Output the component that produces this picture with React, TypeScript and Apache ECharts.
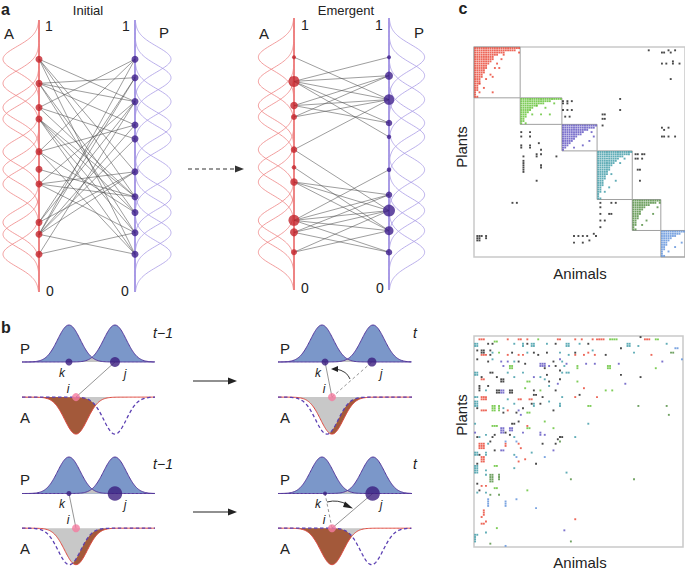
import React, { useEffect, useRef } from "react";
import * as echarts from "echarts";

const FONT = "'Liberation Sans', Arial, Helvetica, sans-serif";

// ---------------- Panel a : bipartite networks ----------------
const traitsA = [0.856, 0.767, 0.678, 0.636, 0.516, 0.451, 0.397, 0.256, 0.212, 0.139];
const traitsP = [0.856, 0.788, 0.7, 0.614, 0.563, 0.442, 0.35, 0.292, 0.218, 0.139];
const traitSigma = 0.047;
const traitCurveHeight = 0.375;
const initialEdges = [
  [0, 5], [0, 6], [0, 9], [0, 2],
  [1, 1], [1, 2], [1, 3], [1, 7],
  [2, 0], [2, 4],
  [3, 6], [3, 7], [3, 8],
  [4, 0], [4, 3], [4, 9],
  [5, 6],
  [6, 5], [6, 6], [6, 8],
  [7, 1], [7, 2], [7, 5],
  [8, 0], [8, 1], [8, 3], [8, 4], [8, 9],
  [9, 2], [9, 8],
  [2, 6], [3, 9], [4, 7], [6, 2], [8, 5], [1, 8],
];
const emergentEdges = [
  [0, 2],
  [1, 0], [1, 1], [1, 2], [1, 3], [1, 4],
  [2, 1], [2, 2], [2, 3],
  [3, 1], [3, 2],
  [4, 2], [4, 7],
  [5, 8],
  [6, 6], [6, 7], [6, 8],
  [7, 5], [7, 6], [7, 7], [7, 8], [7, 9],
  [8, 6], [8, 7], [8, 9],
  [9, 7], [9, 8],
];
const initialNodeSize = 7;
const emergentSizeA = [4, 11, 7.5, 6, 6.5, 4.5, 7.5, 11, 8, 6];
const emergentSizeP = [4, 8, 10.5, 6.5, 4.5, 4.5, 6.5, 12, 9, 6.5];

// ---------------- Panel b : trait matching ----------------
const bSigma = 0.085;
const bPeakK = [0.353, 0.353, 0.328, 0.328];
const bPeakJ = [0.699, 0.699, 0.709, 0.709];
const bNodeK = [0.353, 0.353, 0.351, 0.351];
const bNodeJ = [0.699, 0.699, 0.701, 0.706];
const bSizeK = [7, 5, 7, 4];
const bSizeJ = [10, 14.5, 9, 14.5];
const bNodeI = [0.406, 0.406, 0.403, 0.403];
const bPartnerCurve = [0.699, 0.356, 0.365, 0.699];
const bSolidLink = ["j", "k", "k", "j"];
const bDashedLink = ["", "", "j", "k"];
const bTimeLabel = ["t\u22121", "t\u22121", "t", "t"];
const bABase = -0.95;
const bYRange = [-1.92, 1];

// ---------------- Panel c : matrices ----------------
const matrixCols = 96;
const matrixRows = 95;
const moduleColBounds = [0, 21, 40, 56, 72, 85, 96];
const moduleRowBounds = [0, 23, 35, 47, 69, 83, 95];
const redFill = [21, 19, 14, 11, 9, 9, 8, 7, 6, 6, 5, 5, 4, 4, 3, 3, 3, 2, 2, 2, 1, 1, 1];
const greenFill = [19, 14, 11, 8, 6, 5, 4, 3, 3, 2, 2, 1];
const purpleFill = [16, 15, 12, 10, 9, 7, 6, 5, 4, 3, 2, 1];
const tealFill = [16, 15, 12, 10, 9, 8, 7, 6, 6, 5, 5, 4, 4, 3, 3, 3, 2, 2, 2, 1, 1, 1];
const darkGreenFill = [13, 11, 8, 6, 5, 4, 4, 3, 3, 2, 2, 2, 1, 1];
const lightBlueFill = [11, 9, 7, 5, 4, 3, 3, 2, 2, 1, 1, 1];
const redExtras = [[13, 3], [20, 2], [12, 5], [10, 7], [11, 9], [9, 9], [7, 12], [5, 14], [8, 13], [2, 16], [4, 18], [8, 20], [2, 20], [1, 22]];
const greenExtras = [[7, 3], [9, 7], [13, 7], [5, 7], [2, 11], [11, 4], [15, 2]];
const purpleExtras = [[14, 5], [12, 7], [9, 9], [5, 10], [13, 3]];
const tealExtras = [[12, 3], [10, 5], [6, 10], [8, 13], [3, 18], [1, 21], [5, 16]];
const darkGreenExtras = [[11, 3], [9, 6], [6, 9], [4, 11], [1, 13], [12, 1]];
const lightBlueExtras = [[9, 5], [6, 7], [3, 9], [1, 11]];
const blackCellsTop = [
  [79, 1], [85, 2], [86, 2], [88, 1], [89, 2], [91, 1], [85, 7], [87, 7], [90, 7], [93, 7], [90, 6], [89, 14],
  [40, 24], [42, 24], [44, 24], [40, 25], [42, 25], [40, 28], [42, 28], [44, 28], [41, 31], [43, 31],
  [66, 23], [66, 28], [58, 30], [59, 30], [58, 32], [59, 32], [58, 35],
  [21, 38], [21, 40], [25, 38], [25, 40], [29, 43], [21, 44], [21, 45], [25, 44], [25, 45], [28, 48], [30, 48], [28, 49], [30, 46], [37, 49], [22, 49],
  [22, 51], [22, 52], [22, 53], [22, 54], [22, 55], [22, 56], [30, 53], [30, 54], [28, 60], [17, 70], [19, 70],
  [73, 48], [74, 48], [76, 48], [77, 48], [73, 50], [74, 50], [76, 50], [74, 55], [75, 55], [75, 60],
  [85, 36], [86, 37], [88, 36], [85, 40], [86, 40], [88, 40], [91, 40],
  [57, 70], [62, 70], [64, 70], [57, 72], [57, 75], [61, 75], [62, 75], [57, 78], [59, 78], [57, 81],
  [54, 84], [55, 85], [52, 87], [45, 85], [47, 85], [49, 85], [51, 85], [45, 88], [49, 88],
  [1, 85], [2, 85], [3, 85], [5, 85], [1, 86], [2, 86], [5, 86], [2, 87], [1, 87],
];
// bottom matrix clusters: [col, row, width, height, colour index]
const mixedClusters = [
  [2, 1, 3, 1, 0], [9, 2, 2, 1, 1], [15, 1, 1, 1, 0], [20, 1, 2, 1, 0], [24, 1, 1, 1, 0], [29, 1, 1, 1, 1], [38, 1, 2, 1, 0], [46, 1, 1, 1, 0], [49, 1, 1, 1, 0], [54, 1, 1, 1, 0], [56, 1, 4, 1, 0], [62, 1, 4, 1, 1], [76, 0, 1, 1, 6], [78, 1, 3, 1, 0], [83, 1, 2, 1, 1],
  [0, 3, 2, 2, 3], [6, 3, 1, 1, 6], [8, 3, 1, 1, 6], [18, 3, 1, 1, 3], [22, 3, 1, 2, 3], [24, 3, 1, 1, 6], [26, 3, 2, 2, 3], [33, 3, 1, 1, 3], [37, 3, 1, 1, 6], [42, 3, 2, 2, 3], [48, 3, 1, 1, 3], [52, 3, 1, 1, 6], [70, 3, 2, 2, 3], [75, 4, 1, 1, 3], [88, 3, 1, 1, 3], [92, 5, 2, 1, 5],
  [1, 6, 1, 1, 6], [3, 8, 3, 1, 0], [3, 6, 2, 2, 6], [7, 6, 1, 1, 6], [8, 7, 1, 1, 3], [7, 8, 1, 1, 6], [11, 7, 1, 1, 1], [15, 8, 1, 1, 0], [17, 7, 1, 1, 6], [20, 8, 1, 1, 0], [22, 8, 1, 1, 0], [24, 7, 1, 1, 3], [29, 8, 1, 1, 6], [27, 7, 1, 1, 6], [33, 7, 1, 1, 6], [39, 7, 1, 1, 3], [43, 8, 1, 1, 3], [46, 8, 1, 1, 0], [46, 7, 1, 1, 6], [50, 8, 1, 1, 0], [52, 7, 1, 1, 0], [54, 6, 1, 1, 3], [55, 8, 1, 1, 0], [60, 8, 1, 1, 6], [67, 5, 1, 1, 6], [73, 7, 1, 1, 3], [81, 8, 1, 1, 0], [90, 7, 2, 1, 4], [95, 10, 1, 1, 5],
  [1, 10, 1, 1, 6], [6, 11, 1, 1, 6], [8, 10, 1, 1, 3], [12, 11, 1, 1, 2], [13, 13, 1, 1, 2], [15, 11, 1, 1, 2], [16, 13, 2, 2, 1], [20, 11, 1, 1, 6], [18, 11, 1, 1, 3], [23, 12, 1, 1, 6], [30, 12, 3, 2, 2], [32, 14, 1, 1, 6], [34, 13, 1, 1, 2], [36, 11, 1, 1, 6], [37, 13, 1, 1, 6], [39, 10, 1, 1, 2], [40, 11, 1, 1, 3], [41, 13, 1, 1, 3], [42, 12, 1, 1, 2], [47, 13, 1, 2, 1], [51, 12, 1, 1, 2], [55, 12, 1, 1, 2], [61, 13, 2, 2, 1], [66, 12, 1, 1, 2], [86, 11, 1, 1, 2], [83, 14, 1, 1, 1], [39, 15, 1, 1, 6], [67, 17, 1, 1, 6], [76, 18, 1, 1, 6],
  [0, 16, 2, 2, 3], [3, 18, 1, 1, 6], [3, 19, 2, 1, 0], [7, 16, 2, 1, 6], [10, 18, 1, 1, 6], [12, 19, 2, 2, 6], [15, 16, 1, 1, 3], [18, 18, 1, 1, 3], [22, 16, 1, 1, 3], [24, 20, 2, 1, 1], [27, 18, 1, 1, 2], [30, 18, 1, 1, 3], [34, 20, 1, 1, 6], [33, 17, 1, 1, 6], [40, 16, 1, 1, 3], [42, 16, 2, 1, 3], [38, 21, 1, 1, 2], [39, 19, 1, 1, 6], [32, 19, 1, 1, 3], [47, 20, 1, 1, 1], [69, 21, 1, 1, 2],
  [2, 22, 1, 3, 6], [6, 22, 1, 1, 6], [0, 27, 2, 1, 3], [3, 27, 3, 2, 0], [5, 24, 1, 1, 3], [10, 24, 2, 2, 6], [12, 24, 2, 2, 2], [16, 24, 2, 2, 6], [15, 28, 1, 1, 3], [20, 28, 2, 1, 0], [23, 23, 1, 1, 1], [27, 24, 1, 1, 6], [30, 24, 1, 1, 1], [34, 22, 1, 1, 3], [40, 27, 1, 1, 3], [37, 24, 1, 1, 6], [46, 27, 1, 1, 0], [48, 26, 1, 1, 6], [50, 23, 1, 1, 0], [56, 27, 1, 1, 0], [60, 24, 1, 1, 1], [63, 24, 1, 1, 1], [27, 26, 2, 1, 6], [31, 27, 1, 1, 6], [25, 28, 2, 1, 0],
  [0, 29, 2, 3, 3], [8, 31, 2, 3, 1], [11, 31, 1, 3, 1], [3, 33, 3, 1, 0], [1, 32, 1, 1, 6], [13, 34, 1, 1, 6], [15, 33, 1, 1, 0], [13, 32, 1, 1, 3], [18, 30, 1, 1, 3], [22, 32, 1, 1, 6], [24, 34, 2, 1, 1], [27, 30, 1, 2, 3], [30, 30, 1, 1, 6], [26, 30, 1, 1, 6], [19, 34, 1, 1, 6], [34, 29, 1, 1, 3], [39, 30, 1, 2, 3], [52, 31, 2, 1, 1], [75, 31, 1, 1, 4], [88, 31, 1, 1, 4], [89, 35, 1, 1, 4], [20, 33, 1, 1, 2], [21, 35, 1, 1, 2], [36, 33, 1, 1, 6],
  [0, 39, 1, 1, 3], [1, 45, 1, 1, 6], [0, 43, 1, 1, 2], [2, 45, 1, 1, 3], [5, 44, 1, 1, 3], [7, 47, 1, 1, 6], [8, 40, 3, 1, 1], [9, 44, 1, 1, 6], [8, 45, 1, 1, 6], [12, 41, 2, 3, 2], [14, 43, 1, 1, 6], [16, 41, 2, 2, 2], [17, 39, 2, 1, 6], [18, 45, 1, 1, 3], [20, 38, 1, 1, 6], [24, 41, 2, 1, 1], [24, 40, 1, 1, 0], [32, 38, 1, 1, 1], [36, 41, 1, 1, 1], [32, 44, 1, 1, 2], [38, 46, 1, 1, 6], [39, 45, 2, 1, 6], [46, 45, 1, 1, 3], [52, 39, 1, 1, 3], [30, 43, 1, 2, 2], [22, 43, 1, 1, 2], [16, 44, 1, 1, 6], [39, 47, 1, 1, 4], [31, 48, 1, 1, 6], [37, 48, 1, 1, 6],
  [2, 48, 3, 3, 0], [0, 52, 2, 2, 3], [5, 52, 1, 2, 3], [3, 54, 2, 3, 0], [0, 58, 2, 4, 3], [5, 60, 1, 1, 3], [5, 62, 1, 1, 3], [9, 58, 2, 1, 1], [1, 57, 1, 1, 6], [2, 53, 1, 1, 6], [9, 51, 1, 1, 6], [12, 51, 2, 1, 2], [14, 48, 1, 2, 0], [6, 48, 1, 1, 3], [14, 47, 1, 1, 5], [19, 47, 1, 1, 5], [20, 48, 1, 1, 0], [21, 50, 1, 1, 0], [18, 53, 1, 1, 3], [19, 54, 1, 1, 5], [20, 56, 1, 1, 0], [23, 55, 1, 1, 0], [26, 52, 1, 1, 3], [32, 54, 1, 1, 5], [36, 51, 1, 1, 2], [28, 57, 1, 1, 6], [18, 59, 1, 1, 3], [42, 61, 1, 1, 3],
  [1, 66, 1, 1, 6], [3, 67, 1, 1, 0], [5, 67, 1, 1, 0], [1, 70, 1, 1, 3], [2, 69, 1, 1, 6], [5, 70, 1, 1, 3], [7, 62, 2, 4, 4], [11, 62, 1, 3, 4], [9, 68, 2, 1, 1], [7, 71, 1, 1, 4], [11, 71, 1, 1, 4], [24, 69, 1, 1, 1], [44, 64, 1, 1, 4], [73, 64, 1, 1, 4], [6, 73, 1, 4, 5], [14, 74, 1, 3, 5], [19, 73, 1, 1, 5], [28, 77, 1, 1, 5],
  [4, 78, 1, 3, 0], [3, 81, 1, 1, 0], [5, 83, 1, 1, 0], [3, 84, 2, 1, 0], [10, 86, 1, 1, 1], [46, 82, 1, 1, 0], [41, 87, 1, 1, 2], [5, 88, 1, 1, 3], [0, 89, 2, 1, 3], [0, 90, 1, 3, 3], [7, 93, 1, 1, 4], [14, 94, 1, 1, 5], [44, 92, 1, 1, 4],
];
const matrixColors = ["#e8412f", "#5fc12f", "#5b4fbf", "#3a98a5", "#4e8b3c", "#5b8fd9", "#1c1c1c"];

// ---------------- helpers ----------------
const gauss = (x: number, mu: number, s: number) => Math.exp(-((x - mu) * (x - mu)) / (2 * s * s));
const samples = (a: number, b: number, n: number) => Array.from({ length: n + 1 }, (_, i) => a + ((b - a) * i) / n);

function buildOption() {
  const grid: any[] = [];
  const xAxis: any[] = [];
  const yAxis: any[] = [];
  const series: any[] = [];
  const graphic: any[] = [];

  const addGrid = (box: number[], xr: number[], yr: number[], extra: any = {}, inv = false) => {
    const i = grid.length;
    grid.push({ left: box[0], top: box[1], width: box[2], height: box[3], containLabel: false, ...extra });
    xAxis.push({ type: "value", gridIndex: i, min: xr[0], max: xr[1], show: false });
    yAxis.push({ type: "value", gridIndex: i, min: yr[0], max: yr[1], inverse: inv, show: false });
    return i;
  };
  const lineS = (g: number, data: number[][], color: string, width: number, z = 2, type: any = "solid") => ({
    type: "line", xAxisIndex: g, yAxisIndex: g, data, showSymbol: false, symbol: "none", clip: false, silent: true, z,
    lineStyle: { color, width, type }, animation: false,
  });
  const pline = (g: number, pts: number[][], color: string, width: number, z = 2) => ({
    type: "custom", coordinateSystem: "cartesian2d", xAxisIndex: g, yAxisIndex: g, silent: true, z, clip: false,
    data: [[0.5, 0.5]],
    renderItem: (_p: any, api: any) => ({ type: "polyline", shape: { points: pts.map((p) => api.coord(p)) }, style: { stroke: color, lineWidth: width, fill: "none" } }),
  });
  const poly = (g: number, pts: number[][], color: string, z = 1) => ({
    type: "custom", coordinateSystem: "cartesian2d", xAxisIndex: g, yAxisIndex: g, silent: true, z, clip: false,
    data: [[0, 0]],
    renderItem: (_p: any, api: any) => ({ type: "polygon", shape: { points: pts.map((p) => api.coord(p)) }, style: { fill: color } }),
  });
  const text = (t: string, x: number, y: number, size: number, extra: any = {}) => ({
    type: "text", x, y, silent: true, z: 100,
    style: { text: t, fill: "#222", font: `${extra.italic ? "italic " : ""}${extra.weight || "normal"} ${size}px ${FONT}`, textAlign: extra.align || "center", textVerticalAlign: "middle", verticalAlign: "middle" },
    ...(extra.el || {}),
  });

  // ---------- panel a ----------
  const network = (box: number[], edges: number[][], sizeA: number[], sizeP: number[]) => {
    const g = addGrid(box, [0, 1], [0, 1]);
    const ys = samples(0, 1, 260);
    series.push(pline(g, [[0, 0], [0, 1]], "#f4a0a0", 1.4, 1));
    series.push(pline(g, [[1, 0], [1, 1]], "#bdb2ec", 1.4, 1));
    traitsA.forEach((mu) => series.push(pline(g, ys.map((y) => [-traitCurveHeight * gauss(y, mu, traitSigma), y]), "#ef8585", 0.8, 2)));
    traitsP.forEach((mu) => series.push(pline(g, ys.map((y) => [1 + traitCurveHeight * gauss(y, mu, traitSigma), y]), "#a99ce6", 0.8, 2)));
    series.push({
      type: "lines", coordinateSystem: "cartesian2d", xAxisIndex: g, yAxisIndex: g, silent: true, z: 3, clip: false,
      data: edges.map(([a, p]) => ({ coords: [[0, traitsA[a]], [1, traitsP[p]]] })),
      lineStyle: { color: "#4a4a4a", width: 0.6, opacity: 0.9 },
    });
    series.push({
      type: "scatter", xAxisIndex: g, yAxisIndex: g, clip: false, silent: true, z: 5,
      data: traitsA.map((y, i) => [0, y, sizeA[i]]), symbolSize: (v: number[]) => v[2], itemStyle: { color: "#c4262d" },
    });
    series.push({
      type: "scatter", xAxisIndex: g, yAxisIndex: g, clip: false, silent: true, z: 5,
      data: traitsP.map((y, i) => [1, y, sizeP[i]]), symbolSize: (v: number[]) => v[2], itemStyle: { color: "#3f1f8c" },
    });
  };
  network([39, 20, 96, 272], initialEdges, traitsA.map(() => initialNodeSize), traitsP.map(() => initialNodeSize));
  network([294, 18, 95, 272], emergentEdges, emergentSizeA, emergentSizeP);

  graphic.push(text("a", 1, 9, 16, { weight: "bold", align: "left" }));
  graphic.push(text("Initial", 88, 10, 13));
  graphic.push(text("A", 9, 33, 15), text("P", 164, 32, 15));
  graphic.push(text("1", 49, 26, 14), text("1", 126, 26, 14), text("0", 50, 291, 14), text("0", 125, 291, 14));
  graphic.push(text("Emergent", 346, 10, 13));
  graphic.push(text("A", 264, 33, 15), text("P", 419, 32, 15));
  graphic.push(text("1", 305, 25, 14), text("1", 379, 25, 14), text("0", 305, 288, 14), text("0", 380, 288, 14));
  graphic.push({ type: "line", silent: true, shape: { x1: 188, y1: 169, x2: 236, y2: 169 }, style: { stroke: "#333", lineWidth: 1.1, lineDash: [4, 3] } });
  graphic.push({ type: "polygon", silent: true, shape: { points: [[235, 165.5], [244, 169], [235, 172.5]] }, style: { fill: "#333" } });

  // ---------- panel b ----------
  const bBoxes = [[22, 325, 133, 108], [22, 457, 133, 106.6], [278, 325, 134, 108], [278, 457, 134, 106.6]];
  const xs = samples(0, 1, 200);
  for (let s = 0; s < 4; s++) {
    const g = addGrid(bBoxes[s], [0, 1], bYRange);
    const gk = (x: number) => gauss(x, bPeakK[s], bSigma);
    const gj = (x: number) => gauss(x, bPeakJ[s], bSigma);
    const gi = (x: number) => gauss(x, bNodeI[s], bSigma);
    const gd = (x: number) => gauss(x, bPartnerCurve[s], bSigma);
    const base = bABase;
    series.push(poly(g, [[0, 0], ...xs.map((x) => [x, gk(x)]), [1, 0]], "#7b97c9", 1));
    series.push(poly(g, [[0, 0], ...xs.map((x) => [x, gj(x)]), [1, 0]], "#7b97c9", 1));
    series.push(poly(g, [[0, 0], ...xs.map((x) => [x, Math.min(gk(x), gj(x))]), [1, 0]], "#c4c4c4", 2));
    series.push(lineS(g, xs.map((x) => [x, gk(x)]), "#56399c", 1, 3));
    series.push(lineS(g, xs.map((x) => [x, gj(x)]), "#56399c", 1, 3));
    series.push(poly(g, [[0, base], ...xs.map((x) => [x, base - gi(x)]), [1, base]], "#c8c8c8", 1));
    series.push(poly(g, [...xs.map((x) => [x, base - gi(x)]), ...xs.slice().reverse().map((x) => [x, base - Math.min(gi(x), gd(x))])], "#a3593a", 2));
    series.push(lineS(g, xs.map((x) => [x, base - gi(x)]), "#df4b41", 1, 3));
    series.push(lineS(g, xs.map((x) => [x, base - gd(x)]), "#5b3fb2", 1.3, 4, [3.5, 2.5]));
    const target = (w: string) => (w === "k" ? bNodeK[s] : bNodeJ[s]);
    series.push({
      type: "lines", coordinateSystem: "cartesian2d", xAxisIndex: g, yAxisIndex: g, silent: true, z: 6, clip: false,
      data: [{ coords: [[bNodeI[s], base], [target(bSolidLink[s]), 0]] }],
      lineStyle: { color: "#2b2b2b", width: 1 },
    });
    if (bDashedLink[s]) {
      series.push({
        type: "lines", coordinateSystem: "cartesian2d", xAxisIndex: g, yAxisIndex: g, silent: true, z: 6, clip: false,
        data: [{ coords: [[bNodeI[s], base], [target(bDashedLink[s]), 0]] }],
        lineStyle: { color: "#2b2b2b", width: 1, type: [3, 2.5] },
      });
    }
    series.push({
      type: "scatter", xAxisIndex: g, yAxisIndex: g, clip: false, silent: true, z: 8,
      data: [[bNodeK[s], 0, bSizeK[s]], [bNodeJ[s], 0, bSizeJ[s]]], symbolSize: (v: number[]) => v[2], itemStyle: { color: "#3b1e80" },
    });
    series.push({
      type: "scatter", xAxisIndex: g, yAxisIndex: g, clip: false, silent: true, z: 8,
      data: [[bNodeI[s], base]], symbolSize: 8, itemStyle: { color: "#f57ca0" },
    });
  }
  graphic.push(text("b", 1, 327, 16, { weight: "bold", align: "left" }));
  [0, 1, 2, 3].forEach((s) => {
    const ox = s < 2 ? 0 : 256;
    const dy = s % 2 ? 131 : 0;
    graphic.push(text("P", 25 + ox + (s < 2 ? 0 : 4), 348 + dy, 15), text("A", 25 + ox + (s < 2 ? 0 : 4), 417 + dy, 15));
    graphic.push(text(bTimeLabel[s], s < 2 ? 163 : 415, 333 + dy, 14, { italic: true }));
    graphic.push(text("k", 62 + ox, 373 + dy, 12, { italic: true }));
    graphic.push(text("j", 125 + ox, 374 + dy, 12, { italic: true }));
    graphic.push(text("i", 68 + ox, 389 + dy, 12, { italic: true }));
  });
  [381, 512].forEach((y) => {
    graphic.push({ type: "line", silent: true, shape: { x1: 193, y1: y, x2: 229, y2: y }, style: { stroke: "#222", lineWidth: 1.1 } });
    graphic.push({ type: "polygon", silent: true, shape: { points: [[228, y - 3.5], [237, y], [228, y + 3.5]] }, style: { fill: "#222" } });
  });
  graphic.push({ type: "bezierCurve", silent: true, shape: { x1: 350, y1: 379, cpx1: 347, cpy1: 371, x2: 336, y2: 369 }, style: { stroke: "#222", lineWidth: 0.9, fill: "none" } });
  graphic.push({ type: "polygon", silent: true, shape: { points: [[338, 366], [331, 369], [338, 372]] }, style: { fill: "#222" } });
  graphic.push({ type: "bezierCurve", silent: true, shape: { x1: 327, y1: 502, cpx1: 338, cpy1: 499, x2: 348, y2: 505 }, style: { stroke: "#222", lineWidth: 0.9, fill: "none" } });
  graphic.push({ type: "polygon", silent: true, shape: { points: [[345, 501.5], [353, 508.5], [343, 507]] }, style: { fill: "#222" } });

  // ---------- panel c ----------
  const fills = [redFill, greenFill, purpleFill, tealFill, darkGreenFill, lightBlueFill];
  const extras = [redExtras, greenExtras, purpleExtras, tealExtras, darkGreenExtras, lightBlueExtras];
  const gTop = addGrid([474, 47, 211, 210], [0, matrixCols], [0, matrixRows], { show: true, borderColor: "#c9c9c9", borderWidth: 1.5, backgroundColor: "#fff" }, true);
  const cellSize = [1.9, 1.9];
  fills.forEach((f, m) => {
    const cells: number[][] = [];
    const c0 = moduleColBounds[m], r0 = moduleRowBounds[m];
    const w = moduleColBounds[m + 1] - c0;
    f.forEach((n, r) => {
      for (let c = 0; c < Math.min(n, w); c++) cells.push([c0 + c + 0.5, r0 + r + 0.5]);
    });
    extras[m].forEach(([c, r]) => cells.push([c0 + c + 0.5, r0 + r + 0.5]));
    series.push({ type: "scatter", xAxisIndex: gTop, yAxisIndex: gTop, symbol: "rect", symbolSize: cellSize, silent: true, z: 4, data: cells, itemStyle: { color: matrixColors[m] } });
  });
  series.push({
    type: "scatter", xAxisIndex: gTop, yAxisIndex: gTop, symbol: "rect", symbolSize: cellSize, silent: true, z: 4,
    data: blackCellsTop.map(([c, r]) => [c + 0.5, r + 0.5]), itemStyle: { color: matrixColors[6] },
  });
  series.push({
    type: "custom", coordinateSystem: "cartesian2d", xAxisIndex: gTop, yAxisIndex: gTop, silent: true, z: 3,
    data: moduleColBounds.slice(0, -1).map((c, i) => [c + 0.5, moduleRowBounds[i] + 0.5]),
    renderItem: (p: any, api: any) => {
      const m = p.dataIndex;
      const a = api.coord([moduleColBounds[m], moduleRowBounds[m]]);
      const b = api.coord([moduleColBounds[m + 1], moduleRowBounds[m + 1]]);
      return { type: "rect", shape: { x: a[0], y: a[1], width: b[0] - a[0], height: b[1] - a[1] }, style: { fill: "none", stroke: "#a0a0a0", lineWidth: 1 } };
    },
  });

  const gBot = addGrid([474, 336, 209, 211], [0, matrixCols], [0, matrixRows], { show: true, borderColor: "#c9c9c9", borderWidth: 1.5, backgroundColor: "#fff" }, true);
  matrixColors.forEach((col, ci) => {
    const cells: number[][] = [];
    mixedClusters.forEach(([c, r, w, h, k]) => {
      if (k !== ci) return;
      for (let dx = 0; dx < w; dx++) for (let dy = 0; dy < h; dy++) cells.push([c + dx + 0.5, r + dy + 0.5]);
    });
    series.push({ type: "scatter", xAxisIndex: gBot, yAxisIndex: gBot, symbol: "rect", symbolSize: cellSize, silent: true, z: 4, data: cells, itemStyle: { color: col } });
  });

  graphic.push(text("c", 463, 8, 16, { weight: "bold" }));
  graphic.push(text("Plants", 461, 147, 15, { el: { rotation: Math.PI / 2 } }));
  graphic.push(text("Animals", 580, 273, 15));
  graphic.push(text("Plants", 461, 415, 15, { el: { rotation: Math.PI / 2 } }));
  graphic.push(text("Animals", 580, 562, 15));

  return { animation: false, backgroundColor: "#fff", grid, xAxis, yAxis, series, graphic };
}

export default function App() {
  const ref = useRef<HTMLDivElement>(null);
  useEffect(() => {
    if (!ref.current) return;
    const chart = echarts.init(ref.current, null, { renderer: "svg" });
    chart.setOption(buildOption() as any);
    return () => chart.dispose();
  }, []);
  return <div ref={ref} style={{ position: "absolute", left: 0, top: 0, width: 685, height: 569, background: "#fff" }} />;
}
